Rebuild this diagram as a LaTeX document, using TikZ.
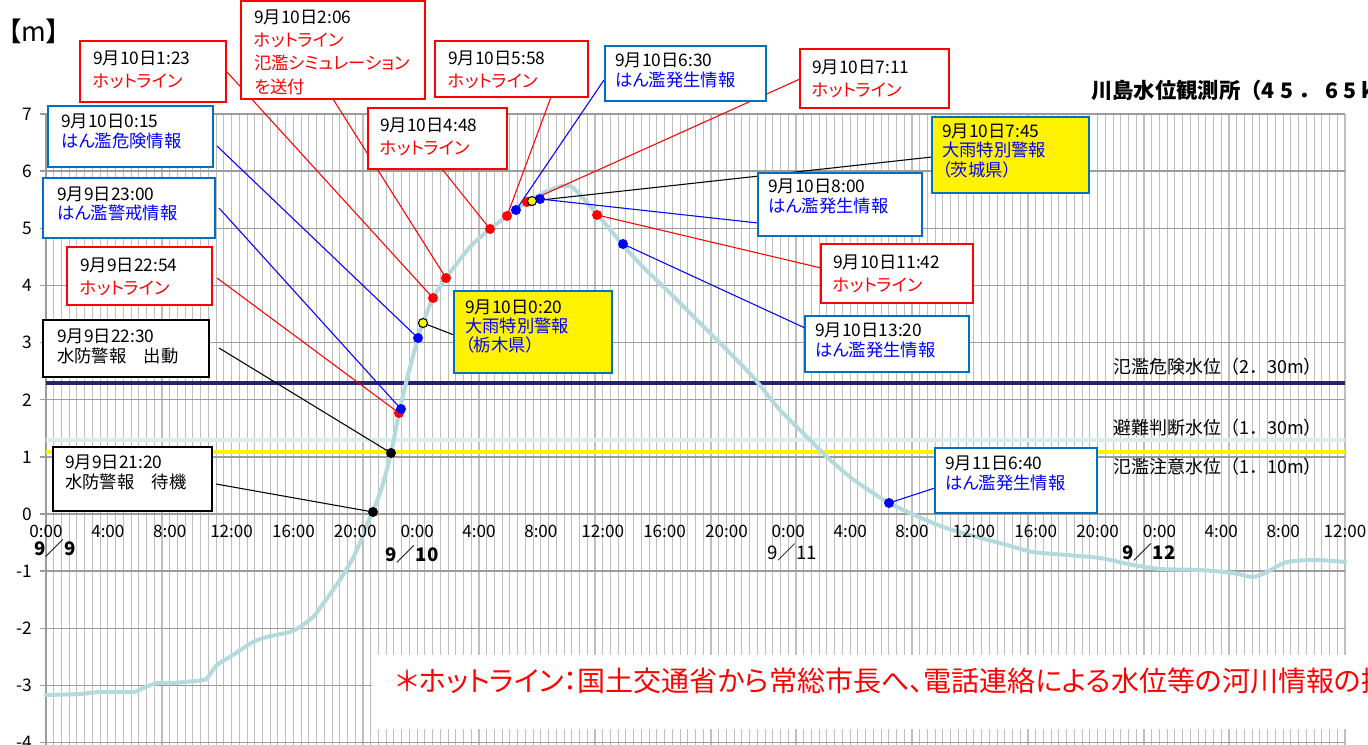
\documentclass[tikz,border=0pt]{standalone}
\usepackage{fontspec}
\setmainfont{Noto Sans CJK JP}[RawFeature={+palt}]
\newfontfamily\jpw{Noto Sans CJK JP}
\newfontfamily\jpwide{Noto Sans CJK JP}[LetterSpace=25]
\usetikzlibrary{fit}
\pgfdeclarelayer{back}
\pgfdeclarelayer{mid}
\pgfsetlayers{back,mid,main}
\definecolor{gridc}{RGB}{190,190,190}
\definecolor{hgrid}{RGB}{155,155,155}
\definecolor{navy}{RGB}{37,37,110}
\definecolor{curvec}{RGB}{180,218,222}
\definecolor{avoidc}{RGB}{218,236,238}
\definecolor{bborder}{RGB}{0,112,192}
\definecolor{txtblue}{RGB}{0,0,255}
\tikzset{
  gridv/.style={draw=gridc, line width=0.8pt},
  gridh/.style={draw=hgrid, line width=1.1pt},
  boxbase/.style={inner sep=0pt, fill=white, line width=1.2pt},
  redbox/.style={boxbase, draw=red},
  bluebox/.style={boxbase, draw=bborder},
  blackbox/.style={boxbase, draw=black},
  yelbox/.style={boxbase, draw=bborder, fill=yellow},
  txtr/.style={anchor=west, align=left, inner sep=0pt, font=\fontsize{13}{17.3}\selectfont},
  txtb/.style={anchor=west, align=left, inner sep=0pt, font=\fontsize{13}{14.4}\selectfont},
  txtk/.style={anchor=west, align=left, inner sep=0pt, font=\fontsize{13}{15}\selectfont},
  dotbase/.style={circle, inner sep=0pt, minimum size=7.5pt},
  dotr/.style={dotbase, fill=red},
  dotbl/.style={dotbase, fill=blue},
  dotk/.style={dotbase, fill=black},
  doty/.style={circle, inner sep=0pt, minimum size=6.8pt, fill=yellow, draw=black, line width=0.8pt},
  conn/.style={line width=0.8pt},
  ylab/.style={anchor=east, inner sep=0pt, font=\jpw\fontsize{13}{15}\selectfont},
  xlab/.style={inner sep=0pt, font=\jpw\fontsize{12.8}{15}\selectfont},
  datelab/.style={inner sep=0pt, font=\jpw\fontsize{14}{16}\selectfont},
  lvllab/.style={anchor=west, inner sep=0pt, font=\jpw\fontsize{13.5}{15}\selectfont},
  curve/.style={draw=curvec, line width=3pt, line join=round, line cap=round},
}
\begin{document}
\begin{tikzpicture}[x=0.75pt, y=-0.75pt]
\useasboundingbox (0,0) rectangle (1368,745);

\begin{pgfonlayer}{back}
  \fill[white] (0,0) rectangle (1368,745);
  % vertical grid (every 30 min)
  \foreach \j in {0,...,168}
    \draw[gridv] ({46+\j*7.7321},114) -- ({46+\j*7.7321},745);
  % horizontal grid (every 1 m)
  \foreach \v in {7,6,...,-4}
    \draw[gridh] (40,{114+57.143*(7-\v)}) -- (1345,{114+57.143*(7-\v)});
  \draw[gridh] (46,114) -- (46,745);
  % threshold lines
  \draw[draw=navy, line width=3pt] (46,382.6) -- (1345,382.6);
  \draw[draw=avoidc, line width=3pt] (46,440) -- (1345,440);
  \draw[draw=yellow, line width=3pt] (46,451.5) -- (1345,451.5);
  % footnote background
  \node[fill=white, inner sep=0pt, fit={(372,655) (1368,729)}] (note) {};
  % water level curve
  \draw[curve] plot[smooth, tension=0.45] coordinates {
    (46,695) (80,694) (100,692) (133,692) (143,688) (157,683) (173,683)
    (203,680) (208,677) (217,665) (233,655) (253,642) (267,637) (290,632)
    (300,627) (313,617) (320,608) (333,590) (343,575) (353,558) (362,538)
    (368,522) (373,511) (382,487) (391,453) (399,413) (408,375) (418,338)
    (423,323) (433,298) (446,278) (470,247) (490,229) (507,216) (516,209)
    (528,202) (545,192) (562,186) (572,187) (582,197) (598,215) (622,244)
    (643,267) (670,293) (700,323) (727,350) (753,377) (780,410) (807,437)
    (827,457) (850,477) (873,493) (889,503) (910,513) (943,527) (977,537)
    (1007,545) (1033,552) (1067,555) (1100,558) (1133,565) (1160,569)
    (1200,570) (1233,573) (1253,577) (1267,572) (1287,562) (1317,560) (1345,562)};
\end{pgfonlayer}

% axis labels
\foreach \v in {7,6,...,-4}
  \node[ylab] (yl\v) at (32,{114+57.143*(7-\v)}) {\v};
\foreach \k in {0,...,21} {
  \pgfmathtruncatemacro\hh{mod(\k,6)*4}
  \node[xlab] (xl\k) at ({46+\k*61.857},531) {\hh:00};
}
\node[datelab, font=\jpw\bfseries\fontsize{14}{16}\selectfont] (d9) at (55,548) {9／9};
\node[datelab, font=\jpw\bfseries\fontsize{14}{16}\selectfont] (d10) at (412,554) {9／10};
\node[datelab] (d11) at (792,552) {9／11};
\node[datelab, font=\jpw\bfseries\fontsize{14}{16}\selectfont] (d12) at (1149,552) {9／12};

\node[anchor=west, inner sep=0pt, font=\fontsize{20}{22}\selectfont] (unit) at (8,31) {【m】};
\node[anchor=west, inner sep=0pt, font=\bfseries\fontsize{16}{19}\selectfont] (title) at (1091,90) {{\jpw 川島水位観測所（}{\jpwide 45．65k}};

\node[lvllab] (lv1) at (1113,367) {氾濫危険水位（2．30m）};
\node[lvllab] (lv2) at (1113,428) {避難判断水位（1．30m）};
\node[lvllab] (lv3) at (1113,467) {氾濫注意水位（1．10m）};

\node[anchor=west, inner sep=0pt, text=red, font=\fontsize{21}{24}\selectfont] (notetxt) at (396,681) {＊ホットライン：国土交通省から常総市長へ、電話連絡による水位等の河川情報の提};

% boxes
\node[redbox, fit={(80,41) (226,102)}] (bA) {};
\node[txtr] (tA) at (93,69.5) {9月10日1:23\\\textcolor{red}{ホットライン}};
\node[redbox, fit={(241,1) (425,99)}] (bB) {};
\node[txtr, font=\fontsize{13}{17.5}\selectfont] (tB) at (254,52) {9月10日2:06\\\textcolor{red}{ホットライン}\\\textcolor{red}{氾濫シミュレーション}\\\textcolor{red}{を送付}};
\node[redbox, fit={(368,108) (507,169)}] (bC) {};
\node[txtr] (tC) at (380,136.5) {9月10日4:48\\\textcolor{red}{ホットライン}};
\node[redbox, fit={(435,41) (588,97)}] (bD) {};
\node[txtr] (tD) at (448,70) {9月10日5:58\\\textcolor{red}{ホットライン}};
\node[bluebox, fit={(605,46) (766,101)}] (bE) {};
\node[txtb] (tE) at (615,70.5) {9月10日6:30\\\textcolor{txtblue}{はん濫発生情報}};
\node[redbox, fit={(800,49) (949,108)}] (bF) {};
\node[txtr] (tF) at (812,78.5) {9月10日7:11\\\textcolor{red}{ホットライン}};
\node[yelbox, fit={(932,117) (1089,193)}] (bG) {};
\node[txtb] (tG) at (942,151) {9月10日7:45\\\textcolor{txtblue}{大雨特別警報}\\\textcolor{txtblue}{（茨城県）}};
\node[bluebox, fit={(758,173) (922,236)}] (bH) {};
\node[txtb] (tH) at (768,196.5) {9月10日8:00\\\textcolor{txtblue}{はん濫発生情報}};
\node[redbox, fit={(821,244) (973,303)}] (bI) {};
\node[txtr] (tI) at (833,273.5) {9月10日11:42\\\textcolor{red}{ホットライン}};
\node[bluebox, fit={(805,316) (969,372)}] (bJ) {};
\node[txtb] (tJ) at (815,340.5) {9月10日13:20\\\textcolor{txtblue}{はん濫発生情報}};
\node[bluebox, fit={(48,106) (213,167)}] (bK) {};
\node[txtb] (tK) at (61,131.5) {9月10日0:15\\\textcolor{txtblue}{はん濫危険情報}};
\node[bluebox, fit={(43,178) (215,238)}] (bL) {};
\node[txtb] (tL) at (57,203.5) {9月9日23:00\\\textcolor{txtblue}{はん濫警戒情報}};
\node[redbox, fit={(67,247) (212,305)}] (bM) {};
\node[txtr] (tM) at (80,276.5) {9月9日22:54\\\textcolor{red}{ホットライン}};
\node[blackbox, fit={(43,320) (209,377)}] (bN) {};
\node[txtk] (tN) at (57,346) {9月9日22:30\\水防警報　出動};
\node[blackbox, fit={(53,447) (212,511)}] (bO) {};
\node[txtk] (tO) at (65,472) {9月9日21:20\\水防警報　待機};
\node[yelbox, fit={(454,291) (612,373)}] (bP) {};
\node[txtb] (tP) at (465,326.5) {9月10日0:20\\\textcolor{txtblue}{大雨特別警報}\\\textcolor{txtblue}{（栃木県）}};
\node[bluebox, fit={(935,448) (1097,513)}] (bQ) {};
\node[txtb] (tQ) at (945,473.5) {9月11日6:40\\\textcolor{txtblue}{はん濫発生情報}};

% dots
\node[dotk] (dO) at (373,512) {};
\node[dotk] (dN) at (391,453) {};
\node[dotr] (dM) at (399,413) {};
\node[dotbl] (dL) at (401,409) {};
\node[dotbl] (dK) at (418,338) {};
\node[doty] (dP) at (423,323) {};
\node[dotr] (dA) at (433,298) {};
\node[dotr] (dB) at (446,278) {};
\node[dotr] (dC) at (490,229) {};
\node[dotr] (dD) at (507,216) {};
\node[dotbl] (dE) at (516,210) {};
\node[dotr] (dF) at (527,202) {};
\node[dotbl] (dH) at (540,199) {};
\node[doty] (dG) at (532,201) {};
\node[dotr] (dI) at (597,215) {};
\node[dotbl] (dJ) at (623,244) {};
\node[dotbl] (dQ) at (889,503) {};

% connector start points on the callout boxes
\coordinate (cA) at (227,72);
\coordinate (cB) at (333,99);
\coordinate (cC) at (442,169);
\coordinate (cD) at (551,97);
\coordinate (cE) at (604,80);
\coordinate (cF) at (800,79);
\coordinate (cG) at (932,157);
\coordinate (cH) at (758,223);
\coordinate (cI) at (821,268);
\coordinate (cJ) at (805,328);
\coordinate (cK) at (217,146);
\coordinate (cL) at (219,208);
\coordinate (cM) at (217,278);
\coordinate (cN) at (219,348);
\coordinate (cO) at (216,484);
\coordinate (cP) at (454,335);
\coordinate (cQ) at (935,488);

\begin{pgfonlayer}{mid}
  \draw[conn, red] (cA) -- (dA.center);
  \draw[conn, red] (cB) -- (dB.center);
  \draw[conn, red] (cC) -- (dC.center);
  \draw[conn, red] (cD) -- (dD.center);
  \draw[conn, blue] (cE) -- (dE.center);
  \draw[conn, red] (cF) -- (dF.center);
  \draw[conn, black] (cG) -- (dG.center);
  \draw[conn, blue] (cH) -- (dH.center);
  \draw[conn, red] (cI) -- (dI.center);
  \draw[conn, blue] (cJ) -- (dJ.center);
  \draw[conn, blue] (cK) -- (dK.center);
  \draw[conn, blue] (cL) -- (dL.center);
  \draw[conn, red] (cM) -- (dM.center);
  \draw[conn, black] (cN) -- (dN.center);
  \draw[conn, black] (cO) -- (dO.center);
  \draw[conn, black] (cP) -- (dP.center);
  \draw[conn, blue] (cQ) -- (dQ.center);
\end{pgfonlayer}
\end{tikzpicture}
\end{document}
